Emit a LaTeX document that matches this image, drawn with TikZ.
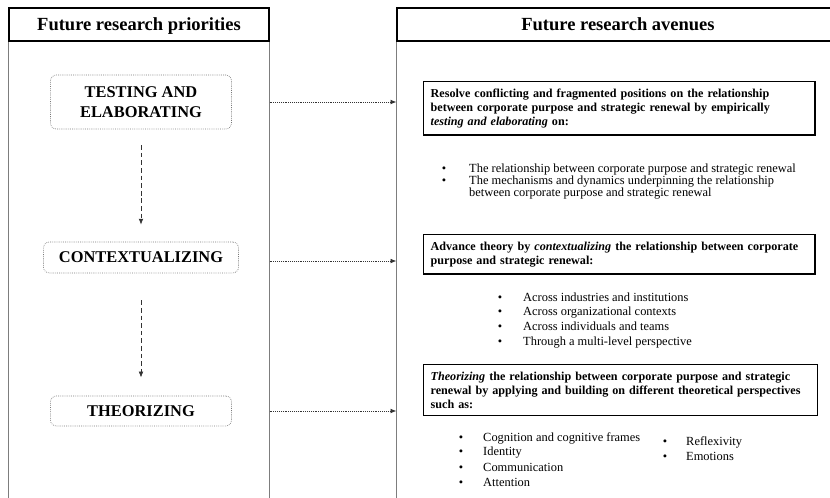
\documentclass[tikz,border=0pt]{standalone}
\usepackage{fontspec}
\setmainfont{Liberation Serif}
\usetikzlibrary{arrows.meta, positioning, calc}
\definecolor{panelgray}{RGB}{125,125,125}
\definecolor{dotgray}{RGB}{120,120,120}

\tikzset{
  headbox/.style={rectangle, draw=black, line width=1pt, inner sep=0pt,
    minimum height=0.99cm, text height=10.4pt, text depth=0pt,
    font=\fontsize{15.8}{19}\selectfont\bfseries},
  panelline/.style={draw=panelgray, line width=0.8pt},
  priobox/.style={rectangle, rounded corners=5pt, draw=dotgray, densely dotted,
    line width=0.6pt, minimum width=5.43cm, align=center,
    font=\fontsize{14}{17}\selectfont\bfseries},
  avenuebox/.style={rectangle, draw=black, line width=1.1pt, inner sep=6pt,
    align=left, anchor=north west, font=\fontsize{10.35}{12}\selectfont\bfseries},
  itemtext/.style={anchor=base west, inner sep=0pt, font=\fontsize{10.6}{12.4}\selectfont},
  itemdot/.style={anchor=base, inner sep=0pt, font=\fontsize{10.6}{12.4}\selectfont},
  linkarrow/.style={draw=black!80, densely dotted, line width=0.6pt,
    -{Latex[length=5pt,width=4pt]}},
  steparrow/.style={draw=black!80, dash pattern=on 4pt off 2.5pt, line width=0.6pt,
    -{Latex[length=5pt,width=4pt]}}
}

\begin{document}
\begin{tikzpicture}[x=0.03cm, y=-0.03cm]

  \useasboundingbox (0,0) rectangle (830,498);

  % ===== column headers =====
  \node[headbox, minimum width=7.8cm] (lhead) at (139,24.5) {Future research priorities};
  \node[headbox, minimum width=13.26cm] (rhead) at (618,24.5) {Future research avenues};

  % panel sides
  \draw[panelline] (lhead.south west) -- (lhead.south west |- 0,500);
  \draw[panelline] (lhead.south east) -- (lhead.south east |- 0,500);
  \draw[panelline] (rhead.south west) -- (rhead.south west |- 0,500);
  \coordinate (lpanel) at (lhead.south east);
  \coordinate (rpanel) at (rhead.south west);

  % ===== left: priorities =====
  \node[priobox, minimum height=1.62cm] (testing) at (141,102) {TESTING AND\\ELABORATING};
  \node[priobox, minimum width=5.85cm, minimum height=0.93cm] (context) at (141,257.5) {CONTEXTUALIZING};
  \node[priobox, minimum height=0.9cm] (theory) at (141,411) {THEORIZING};

  \draw[steparrow, shorten <=13.5pt, shorten >=14.5pt] (testing) -- (context);
  \draw[steparrow, shorten <=23pt, shorten >=15.5pt] (context) -- (theory);

  % links to the avenues
  \draw[linkarrow] (testing.east -| lpanel) -- (testing.east -| rpanel);
  \draw[linkarrow] ([yshift=-3pt]context.east -| lpanel) -- ([yshift=-3pt]context.east -| rpanel);
  \draw[linkarrow] (theory.east -| lpanel) -- (theory.east -| rpanel);

  % ===== right: avenues =====
  \node[avenuebox, text width=322pt] (resolve) at (423,81)
    {Resolve conflicting and fragmented positions on the relationship\\
     between corporate purpose and strategic renewal by empirically\\
     \textit{testing and elaborating} on:};

  \node[avenuebox, text width=322pt] (advance) at (423,234)
    {Advance theory by \textit{contextualizing} the relationship between corporate\\
     purpose and strategic renewal:};

  \node[avenuebox, text width=324pt] (theorize) at (423,364)
    {\textit{Theorizing} the relationship between corporate purpose and strategic\\
     renewal by applying and building on different theoretical perspectives\\
     such as:};

  % bullet lists
  \foreach \y/\txt [count=\i] in {172/{The relationship between corporate purpose and strategic renewal},
      184/{The mechanisms and dynamics underpinning the relationship}} {
    \node[itemdot] (rdot\i) at (444,\y) {\textbullet};
    \node[itemtext] (ritem\i) at (469,\y) {\txt};
  }
  \node[itemtext] (ritem2b) at (469,196.5) {between corporate purpose and strategic renewal};

  \foreach \y/\txt [count=\i] in {301/{Across industries and institutions},
      315.5/{Across organizational contexts}, 330.5/{Across individuals and teams},
      345/{Through a multi-level perspective}} {
    \node[itemdot] (cdot\i) at (500,\y) {\textbullet};
    \node[itemtext] (citem\i) at (523,\y) {\txt};
  }

  \foreach \y/\txt [count=\i] in {441/{Cognition and cognitive frames}, 455.5/{Identity},
      471/{Communication}, 486/{Attention}} {
    \node[itemdot] (tdot\i) at (461,\y) {\textbullet};
    \node[itemtext] (titem\i) at (483,\y) {\txt};
  }
  \foreach \y/\txt [count=\i] in {445.5/{Reflexivity}, 460.5/{Emotions}} {
    \node[itemdot] (udot\i) at (665,\y) {\textbullet};
    \node[itemtext] (uitem\i) at (686,\y) {\txt};
  }

\end{tikzpicture}
\end{document}
